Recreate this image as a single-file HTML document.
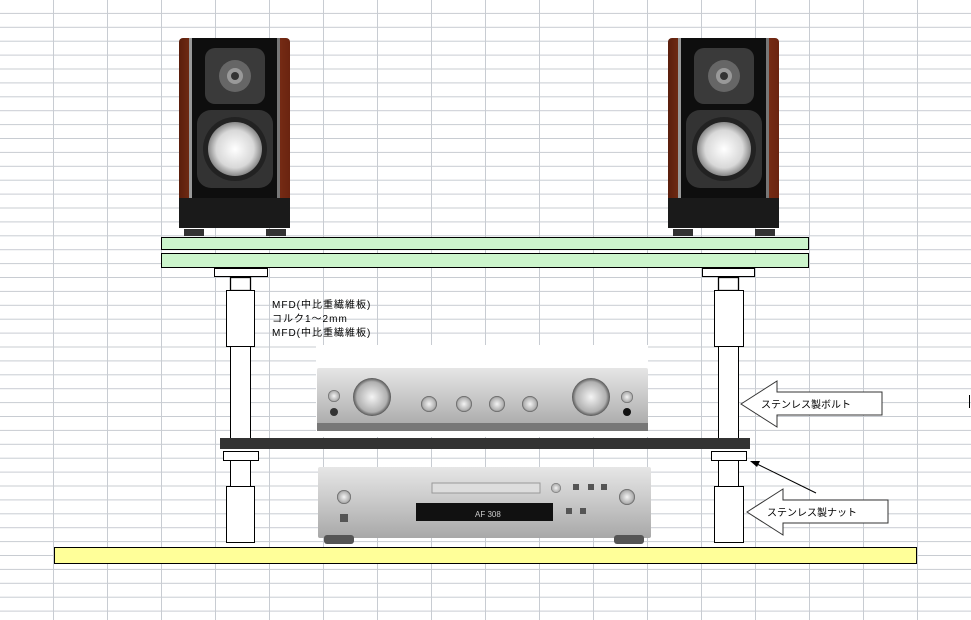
<!DOCTYPE html>
<html><head><meta charset="utf-8"><style>
html,body{margin:0;padding:0;background:#fff;width:971px;height:620px;overflow:hidden}
svg{display:block}
text{font-family:"Liberation Sans","Noto Sans CJK JP",sans-serif}
</style></head><body>
<svg width="971" height="620" viewBox="0 0 971 620" xmlns="http://www.w3.org/2000/svg">
<defs>
<pattern id="grid" x="0" y="0" width="54" height="13.9" patternUnits="userSpaceOnUse">
<path d="M53.5 0V13.9M0 13.4H54" stroke="#c8ccd2" stroke-width="1" fill="none"/>
</pattern>
<linearGradient id="wood" x1="0" x2="1"><stop offset="0" stop-color="#5a1e0c"/><stop offset=".4" stop-color="#b4512a"/><stop offset="1" stop-color="#6a2410"/></linearGradient>
<radialGradient id="cone"><stop offset="0" stop-color="#fff"/><stop offset=".7" stop-color="#d8d8d8"/><stop offset="1" stop-color="#888"/></radialGradient>
<linearGradient id="silver" x1="0" y1="0" x2="0" y2="1"><stop offset="0" stop-color="#e6e6e6"/><stop offset=".5" stop-color="#c8c8c8"/><stop offset="1" stop-color="#a8a8a8"/></linearGradient>
<radialGradient id="knob"><stop offset="0" stop-color="#f4f4f4"/><stop offset=".8" stop-color="#b0b0b0"/><stop offset="1" stop-color="#555"/></radialGradient>
<g id="spk">
<rect x="0" y="0" width="111" height="190" rx="4" fill="url(#wood)"/>
<rect x="12" y="0" width="87" height="190" fill="#0e0e0e"/>
<rect x="10" y="0" width="3" height="190" fill="#999"/>
<rect x="98" y="0" width="3" height="190" fill="#777"/>
<rect x="26" y="10" width="60" height="56" rx="10" fill="#3a3a3a"/>
<circle cx="56" cy="38" r="16" fill="#666"/><circle cx="56" cy="38" r="8" fill="#999"/><circle cx="56" cy="38" r="4" fill="#333"/>
<rect x="18" y="72" width="76" height="78" rx="14" fill="#333"/>
<circle cx="56" cy="111" r="32" fill="#222"/>
<circle cx="56" cy="111" r="27" fill="url(#cone)"/>
<rect x="0" y="160" width="111" height="30" fill="#1a1a1a"/>
<rect x="5" y="191" width="20" height="7" fill="#333"/>
<rect x="87" y="191" width="20" height="7" fill="#333"/>
</g>
</defs>
<rect width="971" height="620" fill="url(#grid)"/>
<line x1="969.5" y1="395" x2="969.5" y2="408" stroke="#000"/>

<use href="#spk" x="179" y="38"/>
<use href="#spk" x="668" y="38"/>

<rect x="161.5" y="237.5" width="647" height="12" fill="#ccf5cc" stroke="#000"/>
<rect x="161.5" y="253.5" width="647" height="14" fill="#ccf5cc" stroke="#000"/>

<g fill="#fff" stroke="#000">
<rect x="214.5" y="268.5" width="53" height="8"/>
<rect x="230.5" y="277.5" width="20" height="13" stroke-width="1.3"/>
<rect x="230.5" y="346.5" width="20" height="92"/>
<rect x="226.5" y="290.5" width="28" height="56"/>
<rect x="223.5" y="451.5" width="35" height="9"/>
<rect x="230.5" y="460.5" width="20" height="26"/>
<rect x="226.5" y="486.5" width="28" height="56"/>
<rect x="702.5" y="268.5" width="52" height="8"/>
<rect x="718.5" y="277.5" width="20" height="13" stroke-width="1.3"/>
<rect x="718.5" y="346.5" width="20" height="92"/>
<rect x="714.5" y="290.5" width="29" height="56"/>
<rect x="711.5" y="451.5" width="35" height="9"/>
<rect x="718.5" y="460.5" width="20" height="26"/>
<rect x="714.5" y="486.5" width="29" height="56"/>
</g>

<g font-size="10" fill="#000" letter-spacing="1">
<text x="272" y="308">MFD(中比重繊維板)</text>
<text x="272" y="322">コルク1～2mm</text>
<text x="272" y="336">MFD(中比重繊維板)</text>
</g>

<rect x="316" y="345" width="332" height="92" fill="#fff"/>
<rect x="317" y="368" width="331" height="60" rx="2" fill="url(#silver)"/>
<rect x="317" y="423" width="331" height="8" fill="#777"/>
<circle cx="372" cy="397" r="19" fill="url(#knob)"/>
<circle cx="591" cy="397" r="19" fill="url(#knob)"/>
<g fill="url(#knob)"><circle cx="334" cy="396" r="6"/><circle cx="429" cy="404" r="8"/><circle cx="464" cy="404" r="8"/><circle cx="497" cy="404" r="8"/><circle cx="530" cy="404" r="8"/><circle cx="627" cy="397" r="6"/></g>
<circle cx="334" cy="412" r="4" fill="#333"/><circle cx="627" cy="412" r="4" fill="#111"/>

<rect x="220" y="438" width="530" height="11" fill="#333"/>

<rect x="318" y="467" width="333" height="71" rx="2" fill="url(#silver)"/>
<rect x="432" y="483" width="108" height="10" fill="#ddd" stroke="#999"/>
<rect x="416" y="503" width="137" height="18" fill="#111"/>
<text x="475" y="517" font-size="8" fill="#ccc">AF 308</text>
<g fill="url(#knob)"><circle cx="344" cy="497" r="7"/><circle cx="556" cy="488" r="5"/><circle cx="627" cy="497" r="8"/></g>
<g fill="#555"><rect x="573" y="484" width="6" height="6"/><rect x="588" y="484" width="6" height="6"/><rect x="601" y="484" width="6" height="6"/><rect x="566" y="508" width="6" height="6"/><rect x="580" y="508" width="6" height="6"/><rect x="340" y="514" width="8" height="8"/></g>
<rect x="324" y="535" width="30" height="9" rx="3" fill="#555"/>
<rect x="614" y="535" width="30" height="9" rx="3" fill="#555"/>

<rect x="54.5" y="547.5" width="862" height="16" fill="#ffff99" stroke="#000"/>

<polygon points="741,404 777,381 777,392 882,392 882,415 777,415 777,427" fill="#fff" stroke="#333"/>
<text x="761" y="408" font-size="10">ステンレス製ボルト</text>
<polygon points="747,512 783,489 783,500 888,500 888,523 783,523 783,535" fill="#fff" stroke="#333"/>
<text x="767" y="516" font-size="10">ステンレス製ナット</text>
<line x1="816" y1="493" x2="755" y2="463" stroke="#000"/>
<polygon points="750,461 760,461 757,467" fill="#000"/>
</svg>
</body></html>
